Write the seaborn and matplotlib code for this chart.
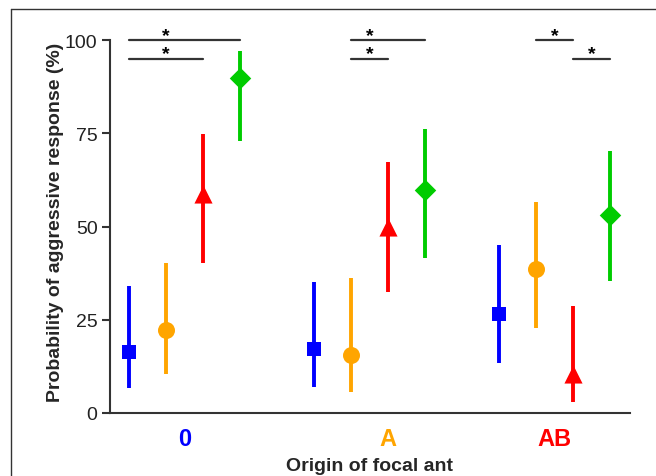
import matplotlib
matplotlib.use("Agg")
import matplotlib.pyplot as plt
from matplotlib.lines import Line2D
import seaborn as sns
import pandas as pd
import numpy as np

# ---- data ----
groups = ["0", "A", "AB"]
group_colors = ["#0000FF", "#FFA500", "#FF0000"]
treatments = ["T1", "T2", "T3", "T4"]
treat_colors = ["#0000FF", "#FFA500", "#FF0000", "#00CC00"]
treat_markers = ["s", "o", "^", "D"]

means = [16.4, 22.3, 58.7, 89.9,
         17.2, 15.6, 50.0, 59.9,
         26.5, 38.6, 10.5, 53.2]
lower = [6.7, 10.5, 40.2, 73.0,
         7.1, 5.5, 32.4, 41.6,
         13.4, 22.8, 2.9, 35.5]
upper = [34.1, 40.2, 74.8, 97.0,
         35.2, 36.1, 67.2, 76.1,
         45.0, 56.5, 28.8, 70.3]

# significance brackets
sig_group = [0, 0, 1, 1, 2, 2]
sig_from = [0, 0, 1, 1, 1, 2]
sig_to = [3, 2, 3, 2, 2, 3]
sig_y = [100, 95, 100, 95, 100, 95]
sig_star = [1.0, 1.0, 1.5, 1.5, 1.5, 2.5]

# ---- build table ----
rows = []
for gi, g in enumerate(groups):
    for ti, t in enumerate(treatments):
        i = gi * 4 + ti
        rows.append(dict(group=g, treat=t, pos=gi * 5 + ti,
                         mean=means[i], lo=lower[i], hi=upper[i]))
df = pd.DataFrame(rows)

sns.set_style("ticks")
plt.rcParams["font.family"] = ["Liberation Sans", "DejaVu Sans"]

fig = plt.figure(figsize=(6.56, 4.77), dpi=100)
ax = fig.add_axes([110 / 656, 1 - 414 / 477, 520 / 656, 373 / 477])

pal = dict(zip(treatments, treat_colors))
mk = dict(zip(treatments, treat_markers))

for _, r in df.iterrows():
    ax.vlines(r["pos"], r["lo"], r["hi"], color=pal[r["treat"]], lw=2.8, zorder=2)

sizes = {"T1": 110, "T2": 150, "T3": 170, "T4": 120}
for t in treatments:
    sub = df[df["treat"] == t]
    sns.scatterplot(data=sub, x="pos", y="mean", color=pal[t], marker=mk[t],
                    s=sizes[t], linewidth=0, legend=False, ax=ax, zorder=3)

# significance bars
for g, a, b, yv, st in zip(sig_group, sig_from, sig_to, sig_y, sig_star):
    x0 = g * 5 + a
    x1 = g * 5 + b
    ax.plot([x0, x1], [yv, yv], color="#333333", lw=1.6, clip_on=False, zorder=4)
    ax.text(g * 5 + st, yv + 1.3, "*", ha="center", va="center",
            fontsize=14, fontweight="bold", color="black", clip_on=False)

ax.set_xlim(-0.5135, 13.54)
ax.set_ylim(0, 100)
ax.set_yticks([0, 25, 50, 75, 100])
ax.tick_params(axis="y", labelsize=14, length=6, width=1.5, color="#333333",
               labelcolor="#222222", pad=3)

centers = [1.5, 7.0, 11.5]
ax.set_xticks(centers)
ax.set_xticklabels(groups, fontsize=17, fontweight="bold")
for lab, c in zip(ax.get_xticklabels(), group_colors):
    lab.set_color(c)
ax.tick_params(axis="x", length=0, pad=10)

for s in ["top", "right"]:
    ax.spines[s].set_visible(False)
for s in ["left", "bottom"]:
    ax.spines[s].set_color("#333333")
    ax.spines[s].set_linewidth(1.5)

ax.set_xlabel("Origin of focal ant", fontsize=14, fontweight="bold")
ax.set_ylabel("Probability of aggressive response (%)", fontsize=14,
              fontweight="bold")
ax.xaxis.set_label_coords(0.5, -0.118)
ax.yaxis.set_label_coords(-0.0880, 0.513)

# figure frame lines
fig.add_artist(Line2D([11 / 656, 1], [1 - 10 / 477, 1 - 10 / 477],
                      color="#333333", lw=1.0, transform=fig.transFigure))
fig.add_artist(Line2D([11 / 656, 11 / 656], [0, 1 - 10 / 477],
                      color="#333333", lw=1.0, transform=fig.transFigure))

fig.savefig("out.png", dpi=100)
